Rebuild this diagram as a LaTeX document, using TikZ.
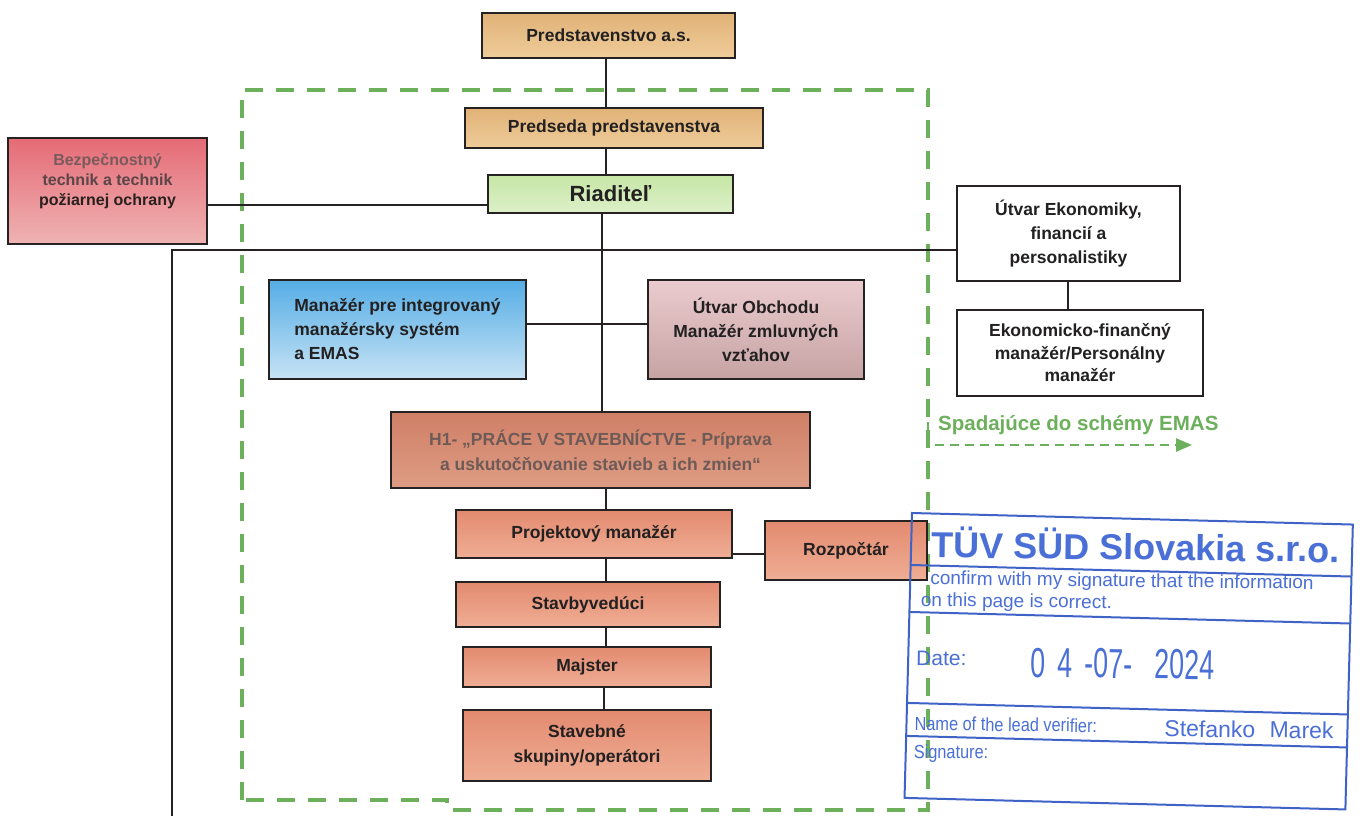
\documentclass[tikz,border=0pt]{standalone}
\usepackage{fontspec}
\setmainfont{Liberation Sans}
\newfontfamily\narrowfont[FakeStretch=0.86]{Liberation Sans}
\newfontfamily\datefont[FakeStretch=0.64]{Liberation Sans}
\usetikzlibrary{arrows.meta}
\definecolor{boxline}{HTML}{262222}
\definecolor{txt}{HTML}{222020}
\definecolor{tanTop}{HTML}{E0B277}
\definecolor{tanBot}{HTML}{EFCC9A}
\definecolor{grnTop}{HTML}{C6E6A6}
\definecolor{grnBot}{HTML}{DDF0C8}
\definecolor{redTop}{HTML}{E56B76}
\definecolor{redBot}{HTML}{EFB3B3}
\definecolor{bluTop}{HTML}{55ADE5}
\definecolor{bluBot}{HTML}{C7E3F5}
\definecolor{mauTop}{HTML}{EBCBCE}
\definecolor{mauBot}{HTML}{C6A3A3}
\definecolor{h1Top}{HTML}{CF7F66}
\definecolor{h1Bot}{HTML}{DE9C84}
\definecolor{salTop}{HTML}{E38A70}
\definecolor{salBot}{HTML}{EFAE94}
\definecolor{h1txt}{HTML}{6E5A56}
\definecolor{emas}{HTML}{6CB05C}
\definecolor{stampln}{HTML}{3E62C6}
\definecolor{stamptx}{HTML}{4A6FD6}
\newcommand\lblfont{\bfseries\fontsize{17.5}{24}\selectfont}
\tikzset{
  box/.style={draw=boxline, line width=2.2pt, inner sep=0pt, align=center, font=\lblfont, text=txt},
  conn/.style={draw=boxline, line width=1.6pt},
  region/.style={draw=emas, line width=3.6pt, dash pattern=on 18pt off 13pt},
  emasarrow/.style={draw=emas, line width=2.4pt, dash pattern=on 9pt off 6pt, -{Triangle[length=16pt,width=13pt,fill=emas]}},
  stampline/.style={draw=stampln, line width=2pt},
  stamptext/.style={inner sep=0pt, anchor=base west, text=stamptx, rotate=0.8}
}
\begin{document}
\begin{tikzpicture}[x=1pt,y=-1pt]
\useasboundingbox (0,0) rectangle (1362,816);

% green EMAS region
\draw[region] (242,800) -- (242,90) -- (928,90) -- (928,810) -- (447,810) -- (447,800) -- cycle;

% boxes
\node[box, top color=tanTop, bottom color=tanBot, minimum width=253pt, minimum height=45pt] (pred) at (608.5,35.5) {Predstavenstvo a.s.};
\node[box, top color=tanTop, bottom color=tanBot, minimum width=298pt, minimum height=40pt] (preds) at (614,128) {Predseda predstavenstva};
\node[box, top color=grnTop, bottom color=grnBot, minimum width=245pt, minimum height=38pt, font=\bfseries\fontsize{22}{26}\selectfont] (riad) at (610.5,194) {Riaditeľ};
\node[box, top color=redTop, bottom color=redBot, minimum width=199pt, minimum height=106pt] (bezp) at (107.5,191) {};
\node[inner sep=0pt, align=center, font=\bfseries\fontsize{16}{20}\selectfont] (bezpT) at (107.5,181)
  {\textcolor[HTML]{7A5A5C}{Bezpečnostný}\\\textcolor[HTML]{5A4547}{technik a technik}\\\textcolor[HTML]{2A2020}{požiarnej ochrany}};
\node[box, top color=bluTop, bottom color=bluBot, minimum width=257pt, minimum height=99pt, align=left] (manaz) at (397.5,329.5) {Manažér pre integrovaný\\manažérsky systém\\a EMAS};
\node[box, top color=mauTop, bottom color=mauBot, minimum width=216pt, minimum height=99pt] (obch) at (756,329.5) {Útvar Obchodu\\Manažér zmluvných\\vzťahov};
\node[box, fill=white, minimum width=223pt, minimum height=95pt] (utvE) at (1068.5,233.5) {Útvar Ekonomiky,\\financií a\\personalistiky};
\node[box, fill=white, minimum width=246pt, minimum height=86pt, font=\bfseries\fontsize{17.5}{22.5}\selectfont] (eko) at (1080,353) {Ekonomicko-finančný\\manažér/Personálny\\manažér};
\node[box, top color=h1Top, bottom color=h1Bot, minimum width=419pt, minimum height=76pt, text=h1txt, font=\bfseries\fontsize{17.5}{25}\selectfont] (h1) at (600.5,450) {H1- „PRÁCE V STAVEBNÍCTVE - Príprava\\a uskutočňovanie stavieb a ich zmien“};
\node[box, top color=salTop, bottom color=salBot, minimum width=276pt, minimum height=48pt] (proj) at (594,534) {Projektový manažér};
\node[box, top color=salTop, bottom color=salBot, minimum width=162pt, minimum height=59pt] (rozp) at (846,550.5) {Rozpočtár};
\node[box, top color=salTop, bottom color=salBot, minimum width=264pt, minimum height=45pt] (stavb) at (588,604.5) {Stavbyvedúci};
\node[box, top color=salTop, bottom color=salBot, minimum width=248pt, minimum height=40pt] (majst) at (587,667) {Majster};
\node[box, top color=salTop, bottom color=salBot, minimum width=248pt, minimum height=71pt, font=\bfseries\fontsize{17.5}{25}\selectfont] (stav) at (587,745.5) {Stavebné\\skupiny/operátori};

% helper coordinates
\coordinate (sA) at (606,0);
\coordinate (sB) at (602,0);
\coordinate (sC) at (604,0);
\coordinate (sE) at (1068,0);
\coordinate (yBz) at (0,205);
\coordinate (yMo) at (0,324);
\coordinate (yPr) at (0,554);
\coordinate (lcorner) at (172,250);
\coordinate (lend) at (172,816);

% connectors
\draw[conn] (pred.south -| sA) -- (preds.north -| sA);
\draw[conn] (preds.south -| sA) -- (riad.north -| sA);
\draw[conn] (riad.south -| sB) -- (h1.north -| sB);
\draw[conn] (h1.south -| sA) -- (proj.north -| sA);
\draw[conn] (proj.south -| sA) -- (stavb.north -| sA);
\draw[conn] (stavb.south -| sA) -- (majst.north -| sA);
\draw[conn] (majst.south -| sC) -- (stav.north -| sC);
\draw[conn] (bezp.east |- yBz) -- (riad.west |- yBz);
\draw[conn] (manaz.east |- yMo) -- (obch.west |- yMo);
\draw[conn] (proj.east |- yPr) -- (rozp.west |- yPr);
\draw[conn] (utvE.south -| sE) -- (eko.north -| sE);
\draw[conn] (utvE.west |- lcorner) -- (lcorner) -- (lend);

% EMAS legend
\node[inner sep=0pt, anchor=west, text=emas, font=\bfseries\fontsize{20.5}{24}\selectfont] (spad) at (938,425) {Spadajúce do schémy EMAS};
\coordinate (arS) at (928,422);
\coordinate (arC) at (928,445);
\coordinate (arE) at (1192,445);
\draw[emasarrow] (arS) -- (arC) -- (arE);

% stamp
\begin{scope}[shift={(912,513)}, rotate=-1.5, transform shape]
  \draw[stampline] (0,0) rectangle (441,285);
  \draw[stampline] (0,52) -- (441,52);
  \draw[stampline] (0,99) -- (441,99);
  \draw[stampline] (0,190) -- (441,190);
  \draw[stampline] (0,223) -- (441,223);
  \node[stamptext, font=\bfseries\fontsize{36}{40}\selectfont] (tuv) at (20,44) {TÜV SÜD Slovakia s.r.o.};
  \node[stamptext, font=\fontsize{19}{22}\selectfont] (conf1) at (20,71) {confirm with my signature that the information};
  \node[stamptext, font=\fontsize{19}{22}\selectfont] (conf2) at (11,93) {on this page is correct.};
  \node[stamptext, font=\fontsize{21}{24}\selectfont] (dateL) at (8,152) {Date:};
  \node[stamptext, font=\datefont\fontsize{42}{44}\selectfont] (dateV) at (123,161) {0\hspace{12pt}4\hspace{12pt}-07-\hspace{22pt}2024};
  \node[stamptext, font=\narrowfont\fontsize{19}{22}\selectfont] (nameL) at (8,217) {Name of the lead verifier:};
  \node[stamptext, font=\fontsize{23}{26}\selectfont] (nameV) at (258,217) {Stefanko\hspace{8pt} Marek};
  \node[stamptext, font=\narrowfont\fontsize{19}{22}\selectfont] (sigL) at (8,245) {Signature:};
\end{scope}
\end{tikzpicture}
\end{document}
